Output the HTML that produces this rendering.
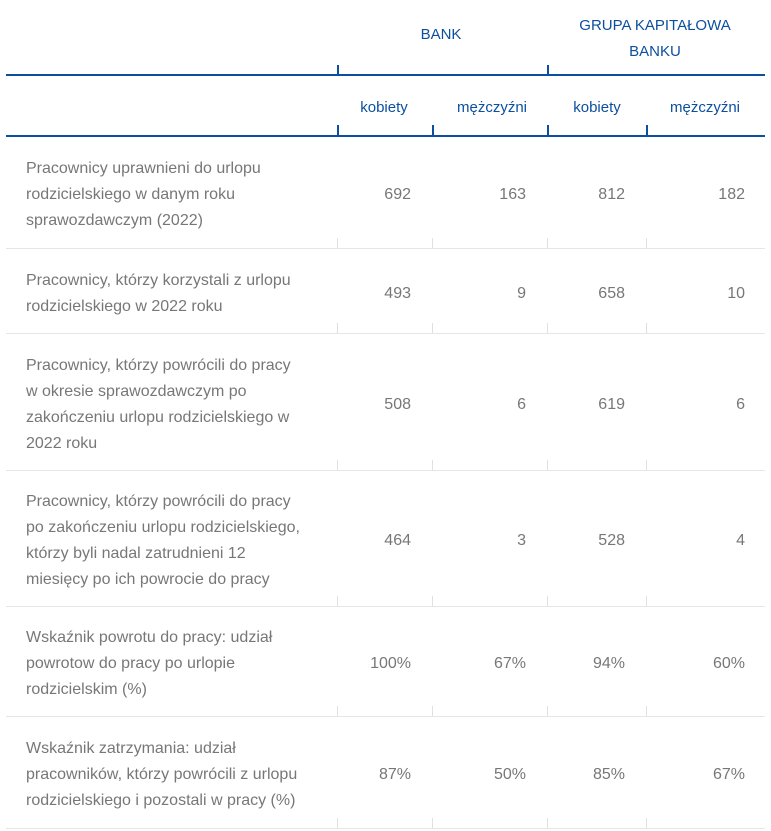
<!DOCTYPE html>
<html><head><meta charset="utf-8"><style>
body{margin:0;width:771px;height:831px;background:#fff;position:relative;font-family:"Liberation Sans",sans-serif;overflow:hidden}
.a{position:absolute}
.hd{color:#0b4f9e;font-size:15px;text-align:center}
.line{position:absolute;left:6px;width:759px;height:2px;background:#0b4f9e}
.tk{position:absolute;width:2px;background:#0b4f9e}
.lab{position:absolute;left:26px;width:320px;color:#777;font-size:16px;line-height:26px}
.num{position:absolute;color:#777;font-size:16px;text-align:right;width:80px}
.sep{position:absolute;left:6px;width:759px;height:1px;background:#e6e6e6}
.gt{position:absolute;width:1px;height:10px;background:#e0e0e0}
</style></head><body>
<div class="a hd" style="left:381px;top:26px;width:120px">BANK</div>
<div class="a hd" style="left:555px;top:13px;width:200px;line-height:26px">GRUPA KAPITAŁOWA<br>BANKU</div>
<div class="line" style="top:74px"></div>
<div class="tk" style="left:337px;top:65px;height:10px"></div>
<div class="tk" style="left:547px;top:65px;height:10px"></div>
<div class="a hd" style="left:344px;top:99px;width:80px">kobiety</div>
<div class="a hd" style="left:447px;top:99px;width:90px">mężczyźni</div>
<div class="a hd" style="left:557px;top:99px;width:80px">kobiety</div>
<div class="a hd" style="left:660px;top:99px;width:90px">mężczyźni</div>
<div class="line" style="top:135px"></div>
<div class="tk" style="left:337px;top:125px;height:11px"></div>
<div class="tk" style="left:432px;top:125px;height:11px"></div>
<div class="tk" style="left:547px;top:125px;height:11px"></div>
<div class="tk" style="left:646px;top:125px;height:11px"></div>
<script>
const labels=[
["Pracownicy uprawnieni do urlopu","rodzicielskiego w danym roku","sprawozdawczym (2022)"],
["Pracownicy, którzy korzystali z urlopu","rodzicielskiego w 2022 roku"],
["Pracownicy, którzy powrócili do pracy","w okresie sprawozdawczym po","zakończeniu urlopu rodzicielskiego w","2022 roku"],
["Pracownicy, którzy powrócili do pracy","po zakończeniu urlopu rodzicielskiego,","którzy byli nadal zatrudnieni 12","miesięcy po ich powrocie do pracy"],
["Wskaźnik powrotu do pracy: udział","powrotow do pracy po urlopie","rodzicielskim (%)"],
["Wskaźnik zatrzymania: udział","pracowników, którzy powrócili z urlopu","rodzicielskiego i pozostali w pracy (%)"]];
const bankK=["692","493","508","464","100%","87%"];
const bankM=["163","9","6","3","67%","50%"];
const grpK=["812","658","619","528","94%","85%"];
const grpM=["182","10","6","4","60%","67%"];
const sepY=[248,333,470,606,716,828];
const rights=[411,526,625,745];
let rowTop=136;
labels.forEach((ls,i)=>{
 const bottom=sepY[i];const mid=(rowTop+bottom)/2+3;
 const l=document.createElement('div');l.className='lab';
 
 
 l.innerHTML=ls.join('<br>');l.style.top=(mid-ls.length*13)+'px';document.body.appendChild(l);
 [bankK,bankM,grpK,grpM].forEach((arr,j)=>{
  const n=document.createElement('div');n.className='num';
  
  
  n.textContent=arr[i];n.style.left=(rights[j]-80)+'px';n.style.top=(mid-9)+'px';document.body.appendChild(n);
 });
 const s=document.createElement('div');s.className='sep';
 
 
 s.style.top=bottom+'px';document.body.appendChild(s);
 [337,432,547,646].forEach(x=>{const g=document.createElement('div');g.className='gt';
 
 
 g.style.left=x+'px';g.style.top=(bottom-10)+'px';document.body.appendChild(g);});
 rowTop=bottom;
});
</script>
</body></html>
